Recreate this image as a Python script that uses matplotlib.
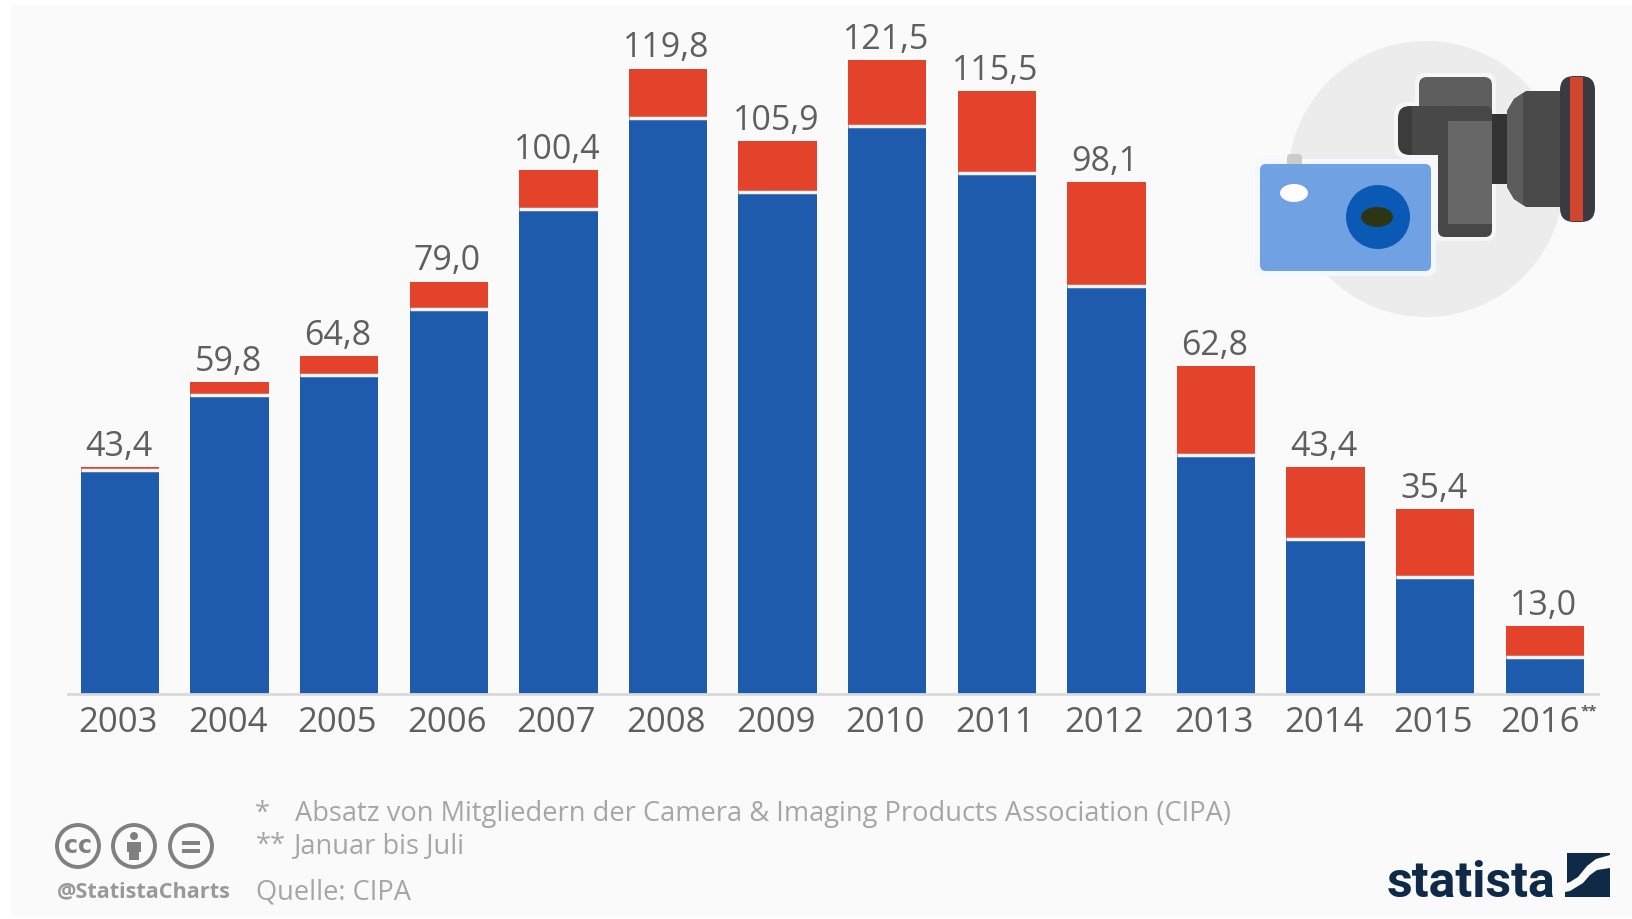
import matplotlib
matplotlib.use('Agg')
import matplotlib.pyplot as plt
from matplotlib.patches import Circle, Ellipse, FancyBboxPatch, Polygon, Rectangle
from matplotlib.transforms import ScaledTranslation

years = ['2003', '2004', '2005', '2006', '2007', '2008', '2009',
         '2010', '2011', '2012', '2013', '2014', '2015', '2016']
totals = [43.4, 59.8, 64.8, 79.0, 100.4, 119.8, 105.9,
          121.5, 115.5, 98.1, 62.8, 43.4, 35.4, 13.0]
# blue part (no labels in the chart for it)
blue = [42.9, 57.3, 61.1, 73.8, 93.0, 110.4, 96.2,
        108.8, 99.8, 78.2, 45.7, 29.7, 22.4, 7.0]
value_labels = ['43,4', '59,8', '64,8', '79,0', '100,4', '119,8', '105,9',
                '121,5', '115,5', '98,1', '62,8', '43,4', '35,4', '13,0']

BLUE = '#1f5bad'
RED = '#e2432a'
BG = '#fafafa'
TEXT = '#5f5f5f'
NOTE = '#a6a6a6'
ICON = '#808080'
NAVY = '#0f2a47'

plt.rcParams['font.family'] = ['Open Sans', 'DejaVu Sans']

W, H = 1632, 920
fig = plt.figure(figsize=(W / 100, H / 100), dpi=100, facecolor='white')

# card background and icons, in pixel coordinates
bg = fig.add_axes([0, 0, 1, 1])
bg.set_xlim(0, W)
bg.set_ylim(H, 0)
bg.axis('off')
bg.add_patch(Rectangle((11, 6), W - 11, 912, color=BG, lw=0))


def rbox(ax, x0, y0, x1, y1, r, color, **kw):
    ax.add_patch(FancyBboxPatch((x0 + r, y0 + r), x1 - x0 - 2 * r, y1 - y0 - 2 * r,
                                boxstyle='round,pad=%d,rounding_size=%d' % (r, r),
                                fc=color, ec='none', **kw))


# camera picture
bg.add_patch(Circle((1426, 180), 138, color='#ececec', lw=0))
rbox(bg, 1415, 74, 1496, 242, 10, '#f6f6f6')
rbox(bg, 1394, 103, 1450, 160, 14, '#f6f6f6')
rbox(bg, 1419, 78, 1492, 125, 8, '#5e5e5e')
rbox(bg, 1398, 107, 1450, 156, 12, '#3c3c3c')
rbox(bg, 1438, 107, 1492, 238, 7, '#474747')
bg.add_patch(Rectangle((1412, 107), 40, 49, color='#484848', lw=0))
bg.add_patch(Rectangle((1448, 122), 44, 103, color='#676767', lw=0))
bg.add_patch(Rectangle((1492, 115), 16, 70, color='#333333', lw=0))
bg.add_patch(Polygon([(1507, 112), (1514, 100), (1526, 92), (1562, 92), (1562, 208),
                      (1526, 208), (1514, 200), (1507, 188)], color='#4a4a4a', lw=0))
bg.add_patch(Polygon([(1507, 112), (1514, 100), (1523, 94), (1523, 206),
                      (1514, 200), (1507, 188)], color='#5c5c5c', lw=0))
rbox(bg, 1560, 77, 1595, 223, 14, '#3a3a40')
bg.add_patch(Rectangle((1570, 78), 13, 144, color='#d2452f', lw=0))
rbox(bg, 1255, 160, 1436, 277, 8, '#f4f8fd')
rbox(bg, 1287, 155, 1302, 170, 4, '#c8cdc8')
rbox(bg, 1260, 165, 1431, 272, 6, '#6fa1e3')
bg.add_patch(Ellipse((1294, 194), 28, 18, color='white', lw=0))
bg.add_patch(Circle((1378, 218), 32, color='#0a5ab5', lw=0))
bg.add_patch(Ellipse((1377, 218), 32, 20, color='#2d3614', lw=0))

# licence icons
for cx in [78, 134, 191]:
    bg.add_patch(Circle((cx, 847), 21, fc='none', ec=ICON, lw=2.8))
bg.text(78, 846, 'cc', color=ICON, fontsize=17, fontweight='bold',
        ha='center', va='center', family='DejaVu Sans')
bg.add_patch(Circle((134, 837), 4, color=ICON, lw=0))
bg.add_patch(Rectangle((127, 843), 14, 10, color=ICON, lw=0))
bg.add_patch(Rectangle((129, 853), 10, 8, color=ICON, lw=0))
bg.add_patch(Rectangle((182, 842), 18, 3.5, color=ICON, lw=0))
bg.add_patch(Rectangle((182, 850), 18, 3.5, color=ICON, lw=0))

# footer
bg.text(57, 892, '@StatistaCharts', color='#999999', fontsize=15.6,
        fontweight='bold', va='center', ha='left')
bg.text(255, 814, '*', color=NOTE, fontsize=19.6, va='center')
bg.text(295, 814, 'Absatz von Mitgliedern der Camera & Imaging Products Association (CIPA)',
        color=NOTE, fontsize=19.6, va='center')
bg.text(256, 846, '**', color=NOTE, fontsize=19.6, va='center')
bg.text(293, 846, 'Januar bis Juli', color=NOTE, fontsize=19.6, va='center')
bg.text(256, 893, 'Quelle: CIPA', color=NOTE, fontsize=19.6, va='center')

# statista logo
bg.text(1387, 897, 'statista', color=NAVY, fontsize=36, fontweight='bold',
        family=['Roboto', 'Liberation Sans'], va='baseline', ha='left')
bg.add_patch(Polygon([(1567, 854), (1610, 854), (1610, 856), (1596, 860), (1587, 867),
                      (1578, 878), (1570, 883), (1567, 884)], color=NAVY, lw=0))
bg.add_patch(Polygon([(1565, 898), (1610, 898), (1610, 869), (1597, 871), (1590, 876),
                      (1583, 884), (1570, 892), (1565, 893)], color=NAVY, lw=0))

# chart
base_y = 695
ax = fig.add_axes([68 / W, 1 - base_y / H, (1598 - 68) / W, base_y / H])
ax.patch.set_alpha(0)
x = list(range(len(years)))
red = [t - b for t, b in zip(totals, blue)]
ax.bar(x, blue, width=0.716, color=BLUE, lw=0)
ax.bar(x, red, width=0.716, bottom=blue, color=RED, lw=0)
ax.hlines(blue, [i - 0.358 for i in x], [i + 0.358 for i in x], color='#f4f4f4', lw=2.5)
ax.set_xlim(-0.474, 13.485)
ax.set_ylim(0, base_y / 5.22)

for i, lab in enumerate(value_labels):
    ax.annotate(lab, (i, totals[i]), xytext=(-1, 3), textcoords='offset points',
                ha='center', va='bottom', fontsize=24.5, color=TEXT)

for s in ['top', 'left', 'right']:
    ax.spines[s].set_visible(False)
ax.spines['bottom'].set_color('#d9d9d9')
ax.spines['bottom'].set_linewidth(2)
ax.set_yticks([])
ax.set_xticks(x)
ax.set_xticklabels(years, fontsize=25, color=TEXT)
ax.tick_params(axis='x', length=0, pad=8)

# all tick labels sit a little left of the bars, 2016 more for its footnote stars
labels = ax.get_xticklabels()
for lab in labels[:-1]:
    lab.set_transform(lab.get_transform() + ScaledTranslation(-2 / 100, 0, fig.dpi_scale_trans))
labels[-1].set_transform(labels[-1].get_transform() + ScaledTranslation(-5 / 100, 0, fig.dpi_scale_trans))
ax.annotate('**', (13, 0), xytext=(26, -7), textcoords='offset points',
            fontsize=11, fontweight='bold', color=TEXT, ha='left', va='top', annotation_clip=False)

fig.savefig('out.png', dpi=100, facecolor='white')
